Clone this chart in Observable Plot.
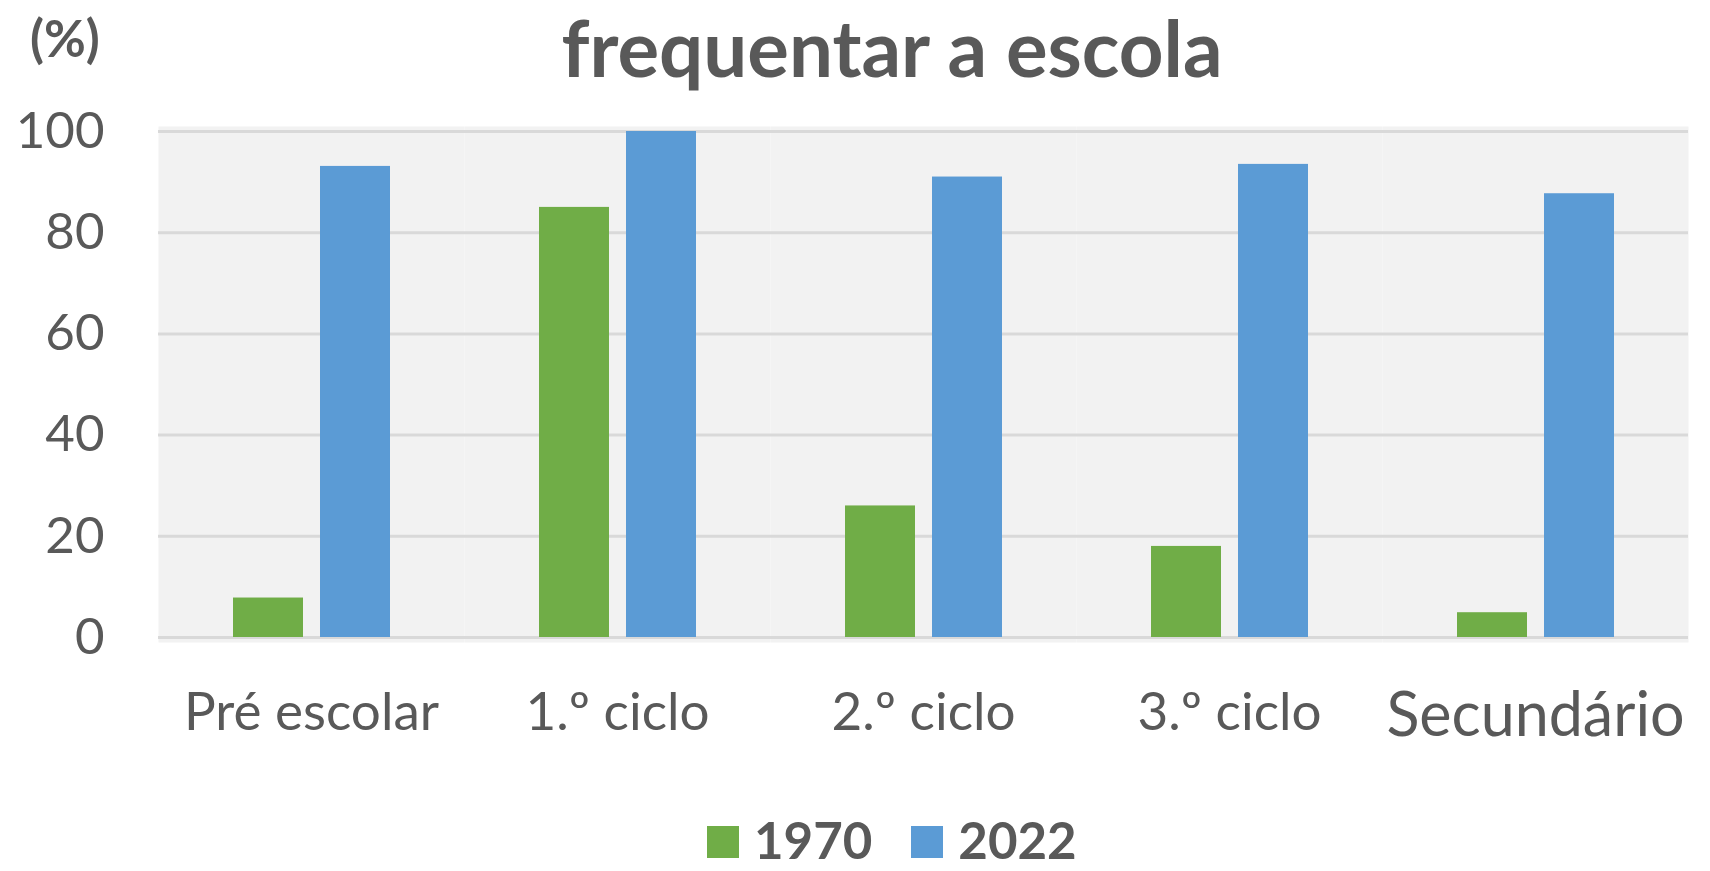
<!DOCTYPE html>
<html>
<head>
<meta charset="utf-8">
<script src="https://cdn.jsdelivr.net/npm/d3@7"></script>
<script src="https://cdn.jsdelivr.net/npm/@observablehq/plot@0.6"></script>
<style>
  html, body { margin: 0; padding: 0; background: #ffffff; overflow: hidden; }
  body { width: 1710px; height: 871px; position: relative; font-family: Lato, sans-serif; color: #595959; }
  #chart { position: absolute; left: 0; top: 0; }
  .title { position: absolute; left: 892px; top: 1px; transform: translateX(-50%); font-size: 78px; line-height: 1.2; font-weight: bold; white-space: nowrap; }
  .ylab { position: absolute; left: 30px; top: 7px; font-size: 51px; line-height: 1.2; font-weight: bold; }
  .legend { position: absolute; left: 707px; top: 809px; display: flex; align-items: flex-start; font-size: 51px; line-height: 1.2; font-weight: bold; }
  .legend .item { display: flex; align-items: flex-start; margin-right: 39px; }
  .legend .sw { width: 32px; height: 32px; margin-top: 17px; margin-right: 15px; }
</style>
</head>
<body>
<div class="title">frequentar a escola</div>
<div class="ylab">(%)</div>
<div id="chart"></div>
<div class="legend" id="legend"></div>
<script>
const categories = ["Pré escolar", "1.º ciclo", "2.º ciclo", "3.º ciclo", "Secundário"];
const series = ["1970", "2022"];
const values1970 = [7.8, 85, 26, 18, 4.9];
const values2022 = [93.1, 100, 91, 93.5, 87.7];
const yTicks = [0, 20, 40, 60, 80, 100];
const colors = ["#70ad47", "#5b9bd5"];

const data = categories.flatMap((c, i) => [
  {cat: c, year: series[0], value: values1970[i]},
  {cat: c, year: series[1], value: values2022[i]}
]);

const lastCat = categories[categories.length - 1];

const plot = Plot.plot({
  width: 1710,
  height: 760,
  marginLeft: 156,
  marginRight: 20,
  marginTop: 131,
  marginBottom: 123,
  style: {fontFamily: "Lato, sans-serif", fontSize: "51px", color: "#595959", background: "transparent", overflow: "visible"},
  fx: {domain: categories, padding: 0, label: null, axis: null},
  x: {domain: series, paddingInner: 0.2, paddingOuter: 0.853, axis: null},
  y: {domain: [0, 100], ticks: yTicks, tickSize: 0, tickPadding: 54, label: null},
  color: {domain: series, range: colors},
  marks: [
    Plot.frame({fill: "#f2f2f2", insetTop: -5, insetBottom: -5}),
    Plot.gridY(yTicks, {stroke: "#d9d9d9", strokeWidth: 3, strokeOpacity: 1}),
    Plot.barY(data, {fx: "cat", x: "year", y: "value", fill: "year"}),
    Plot.text(categories, {
      fx: d => d,
      text: d => d,
      frameAnchor: "bottom",
      lineAnchor: "top",
      textAnchor: "middle",
      dy: 55,
      fill: "#595959",
      fontSize: d => (d === lastCat ? 61 : 53)
    })
  ]
});
document.getElementById("chart").appendChild(plot);

const legend = document.getElementById("legend");
series.forEach((s, i) => {
  const item = document.createElement("div");
  item.className = "item";
  const sw = document.createElement("span");
  sw.className = "sw";
  sw.style.background = colors[i];
  const t = document.createElement("span");
  t.textContent = s;
  item.appendChild(sw);
  item.appendChild(t);
  legend.appendChild(item);
});
</script>
</body>
</html>
